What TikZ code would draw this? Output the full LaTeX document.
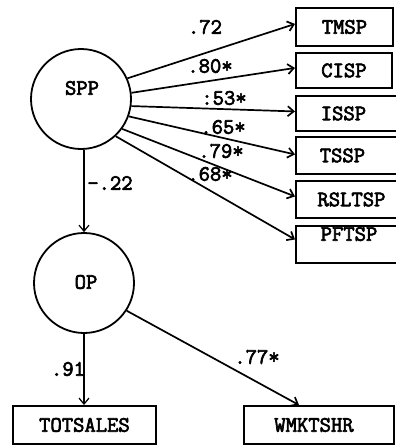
\documentclass[tikz,border=0pt]{standalone}
\usepackage{fontspec}
\newfontfamily\twfont{Latin Modern Mono}[FakeBold=3]
\usetikzlibrary{arrows.meta,calc}
\begin{document}
\begin{tikzpicture}[x=1pt,y=-1pt,
  every node/.style={font=\fontsize{22}{24}\selectfont\twfont},
  latent/.style={circle,draw,line width=1.8pt,minimum size=100pt,inner sep=0pt},
  obsbox/.style={rectangle,draw,line width=1.9pt,inner sep=0pt,anchor=north west},
  path/.style={line width=1.7pt,-{Straight Barb[length=6pt,width=10pt]}},
  thinpath/.style={line width=1.2pt,-{Straight Barb[length=6pt,width=10pt]}},
  coef/.style={inner sep=0pt}]
\useasboundingbox[fill=white] (0,0) rectangle (396,447);
% latent variables
\node[latent] (spp) at (81,99) {};
\node (spplbl) at (82,88) {SPP};
\node[latent] (op) at (84,283) {};
\node (oplbl) at (86,282) {OP};
% indicator boxes
\node[obsbox,minimum width=97pt,minimum height=38pt] (tmsp) at (295,7) {TMSP};
\node[obsbox,minimum width=96pt,minimum height=35pt] (cisp) at (295,52) {CISP};
\node[obsbox,minimum width=115pt,minimum height=35pt] (issp) at (295,95) {ISSP\hspace*{20pt}};
\node[obsbox,minimum width=115pt,minimum height=37pt] (tssp) at (295,136) {TSSP\hspace*{22pt}};
\node[obsbox,minimum width=115pt,minimum height=37pt] (rsltsp) at (295,180) {RSLTSP\hspace*{4pt}};
\node[obsbox,minimum width=115pt,minimum height=37pt] (pftsp) at (295,225) {};
\node (pftsplbl) at (349,234) {PFTSP};
\node[obsbox,minimum width=143pt,minimum height=38pt] (totsales) at (12,405) {TOTSALES};
\node[obsbox,minimum width=150pt,minimum height=38pt] (wmktshr) at (243,405) {WMKTSHR\hspace*{10pt}};
% paths
\draw[path] (spp.24) -- ($(tmsp.west)+(0,-3)$);
\draw[path] (spp.7) -- ($(cisp.west)+(0,-2.5)$);
\draw[path] (spp.-8) -- ($(issp.west)+(0,-2)$);
\draw[path] (spp.-20) -- ($(tssp.west)+(0,-1)$);
\draw[path] (spp.-36) -- ($(rsltsp.west)+(0,-3)$);
\draw[path] (spp.-47) -- ($(pftsp.west)+(0,-5)$);
\draw[thinpath] (op.north |- spp.south) -- (op.north);
\draw[thinpath] (op.south) -- (op.south |- totsales.north);
\draw[path] (op.-33) -- ($(wmktshr.north)+(-20,0)$);
% coefficients
\node[coef] (c1) at (205,27) {.72};
\node[coef] (c2) at (210,66) {.80*};
\node[coef] (c3) at (224,98) {:53*};
\node[coef] (c4) at (223,127) {.65*};
\node[coef] (c5) at (221,151) {.79*};
\node[coef] (c6) at (210,174) {.68*};
\node[coef] (c7) at (110,183) {-.22};
\node[coef] (c8) at (68,369) {.91};
\node[coef] (c9) at (257,357) {.77*};
\end{tikzpicture}
\end{document}
